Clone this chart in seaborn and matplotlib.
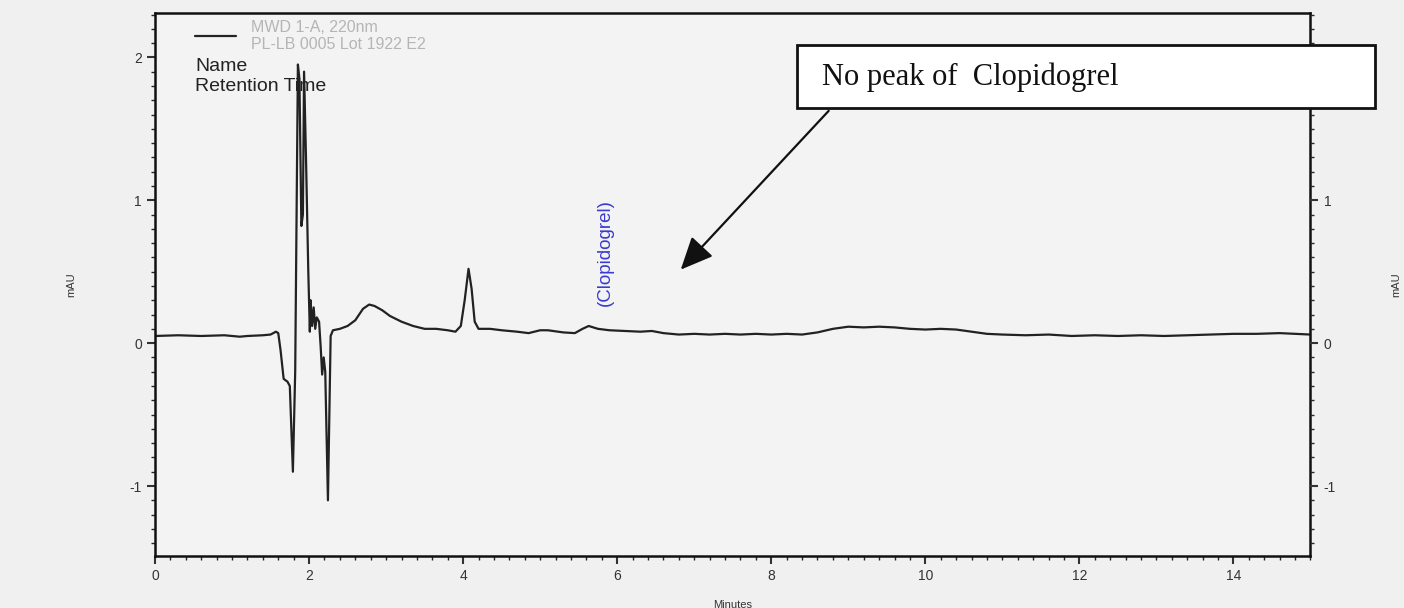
import matplotlib
matplotlib.use('Agg')
import matplotlib.pyplot as plt
from matplotlib.patches import Rectangle
from matplotlib.ticker import MultipleLocator
import seaborn as sns

# Sac ky do placebo - doc tu hinh
time_min = [0.0, 0.3, 0.6, 0.9, 1.1, 1.2, 1.4, 1.5, 1.57, 1.6, 1.63, 1.67, 1.72, 1.75,
            1.79, 1.82, 1.855, 1.875, 1.9, 1.92, 1.935, 1.96, 1.99, 2.01, 2.02, 2.04,
            2.06, 2.08, 2.1, 2.13, 2.15, 2.17, 2.19, 2.21, 2.245, 2.28, 2.31, 2.4, 2.5,
            2.6, 2.7, 2.78, 2.85, 2.95, 3.05, 3.2, 3.35, 3.5, 3.65, 3.8, 3.9, 3.97, 4.02,
            4.07, 4.11, 4.15, 4.2, 4.35, 4.5, 4.7, 4.85, 5.0, 5.1, 5.3, 5.45, 5.55, 5.63,
            5.75, 5.9, 6.1, 6.3, 6.45, 6.6, 6.8, 7.0, 7.2, 7.4, 7.6, 7.8, 8.0, 8.2, 8.4,
            8.6, 8.8, 9.0, 9.2, 9.4, 9.6, 9.8, 10.0, 10.2, 10.4, 10.6, 10.8, 11.0, 11.3,
            11.6, 11.9, 12.2, 12.5, 12.8, 13.1, 13.4, 13.7, 14.0, 14.3, 14.6, 14.8, 15.0]
mau = [0.05, 0.055, 0.05, 0.055, 0.045, 0.05, 0.055, 0.06, 0.08, 0.07, -0.05, -0.25, -0.27,
       -0.3, -0.9, -0.2, 1.95, 1.85, 0.82, 0.9, 1.9, 1.3, 0.5, 0.08, 0.3, 0.12, 0.25, 0.1,
       0.18, 0.15, -0.02, -0.22, -0.1, -0.2, -1.1, 0.05, 0.09, 0.1, 0.12, 0.16, 0.24, 0.27,
       0.26, 0.23, 0.19, 0.15, 0.12, 0.1, 0.1, 0.09, 0.08, 0.12, 0.3, 0.52, 0.38, 0.15, 0.1,
       0.1, 0.09, 0.08, 0.07, 0.09, 0.09, 0.075, 0.07, 0.1, 0.12, 0.1, 0.09, 0.085, 0.08,
       0.085, 0.07, 0.06, 0.065, 0.06, 0.065, 0.06, 0.065, 0.06, 0.065, 0.06, 0.075, 0.1,
       0.115, 0.11, 0.115, 0.11, 0.1, 0.095, 0.1, 0.095, 0.08, 0.065, 0.06, 0.055, 0.06,
       0.05, 0.055, 0.05, 0.055, 0.05, 0.055, 0.06, 0.065, 0.065, 0.07, 0.065, 0.06]

x_ticks = [0, 2, 4, 6, 8, 10, 12, 14]
y_ticks = [-1, 0, 1, 2]
legend_label = 'MWD 1-A, 220nm\nPL-LB 0005 Lot 1922 E2'
peak_name = '(Clopidogrel)'
peak_time = 5.85
note_text = 'No peak of  Clopidogrel'
note_target = (6.8, 0.5)
note_start = (8.77, 1.64)

sns.set_theme(style='white')
plt.rcParams['font.family'] = ['Liberation Sans', 'DejaVu Sans']
plt.rcParams['axes.unicode_minus'] = False

fig = plt.figure(figsize=(14.04, 6.08), dpi=100, facecolor='#f0f0f0')
ax = fig.add_axes([0.1104, 0.0855, 0.8230, 0.893])
ax.set_facecolor('#f3f3f3')

sns.lineplot(x=time_min, y=mau, ax=ax, color='#222222', linewidth=1.6,
             sort=False, estimator=None, label=legend_label)

ax.set_xlim(0, 15)
ax.set_ylim(-1.49, 2.31)
ax.set_xticks(x_ticks)
ax.set_yticks(y_ticks)
ax.xaxis.set_minor_locator(MultipleLocator(0.2))
ax.yaxis.set_minor_locator(MultipleLocator(0.1))
ax.tick_params(axis='both', which='major', direction='out', length=6, width=1.5,
               labelsize=10, colors='#333333', left=True, bottom=True)
ax.tick_params(axis='both', which='minor', direction='out', length=3, width=1,
               left=True, bottom=True)
for s in ax.spines.values():
    s.set_color('#111111')
    s.set_linewidth(1.8)
ax.set_xlabel('Minutes', fontsize=8, color='#333333', labelpad=12)
ax.set_ylabel('mAU', fontsize=8, color='#333333', labelpad=38)

# truc phai
ax2 = ax.twinx()
ax2.set_ylim(ax.get_ylim())
ax2.set_yticks(y_ticks)
ax2.yaxis.set_minor_locator(MultipleLocator(0.1))
ax2.tick_params(axis='y', which='major', direction='out', length=6, width=1.5,
                labelsize=10, colors='#333333', right=True)
ax2.tick_params(axis='y', which='minor', direction='out', length=3, width=1, right=True)
ax2.set_ylabel('mAU', fontsize=8, color='#333333', labelpad=40)
for s in ax2.spines.values():
    s.set_visible(False)

leg = ax.legend(loc='upper left', bbox_to_anchor=(0.022, 1.014), frameon=False,
                fontsize=11.5, handlelength=2.6, handletextpad=0.9, labelspacing=0.1,
                labelcolor='#b5b5b5')
ax.text(0.035, 0.917, 'Name\nRetention Time', transform=ax.transAxes,
        fontsize=14, color='#222222', va='top', linespacing=1.2)

ax.text(peak_time, 0.26, peak_name, rotation=90, color='#3a3ad0', fontsize=13.5,
        ha='center', va='bottom')

ax.annotate('', xy=note_target, xytext=note_start,
            arrowprops=dict(arrowstyle='-|>,head_length=1.0,head_width=0.45',
                            color='#111111', lw=1.6, mutation_scale=20))

box = Rectangle((797 / 1404, 1 - 108 / 608), 578 / 1404, 63 / 608,
                transform=fig.transFigure, facecolor='white', edgecolor='#111111',
                linewidth=2, zorder=5)
fig.add_artist(box)
fig.text(822 / 1404, 1 - 77 / 608, note_text, fontsize=22, va='center', ha='left',
         family=['Liberation Serif', 'DejaVu Serif'], color='#111111', zorder=6)

plt.savefig('out.png', dpi=100, facecolor=fig.get_facecolor())
